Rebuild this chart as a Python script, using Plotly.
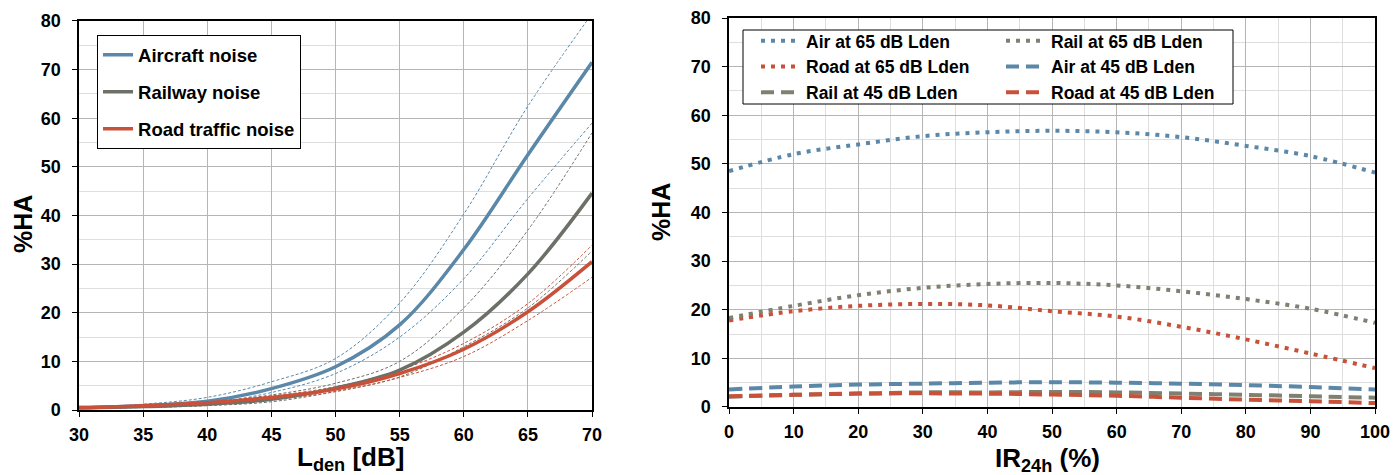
import plotly.graph_objects as go

# ---------------- data (left panel) ----------------
lden = [30, 35, 40, 45, 50, 55, 60, 65, 70]
aircraft = [0.5, 0.9, 1.8, 4.4, 8.9, 17.5, 33.0, 52.5, 71.5]
aircraft_hi = [0.6, 1.2, 2.6, 5.8, 10.6, 22.0, 40.3, 62.5, 81.5]
aircraft_lo = [0.4, 0.7, 1.4, 3.6, 7.5, 15.0, 27.0, 43.5, 59.0]
railway = [0.4, 0.7, 1.2, 2.2, 4.5, 8.2, 16.0, 28.0, 44.6]
railway_hi = [0.5, 0.9, 1.6, 3.1, 5.5, 10.0, 21.0, 37.0, 57.0]
railway_lo = [0.3, 0.5, 0.9, 1.7, 3.8, 6.8, 13.0, 21.0, 32.7]
road = [0.5, 0.9, 1.5, 2.6, 4.3, 7.5, 12.5, 20.2, 30.5]
road_hi = [0.6, 1.0, 1.7, 2.9, 4.8, 8.2, 13.7, 21.9, 33.9]
road_lo = [0.4, 0.8, 1.3, 2.1, 3.8, 6.7, 11.0, 18.4, 27.3]

# ---------------- data (right panel) ----------------
ir24h = [0, 10, 20, 30, 40, 50, 60, 70, 80, 90, 100]
air65 = [48.5, 52.0, 54.0, 55.7, 56.5, 56.8, 56.5, 55.5, 53.7, 51.6, 48.2]
rail65 = [18.3, 20.8, 23.0, 24.5, 25.3, 25.5, 25.0, 23.8, 22.2, 20.2, 17.3]
road65 = [17.8, 19.7, 20.8, 21.2, 20.9, 19.7, 18.6, 16.5, 13.9, 11.0, 8.0]
air45 = [3.6, 4.2, 4.6, 4.8, 5.0, 5.1, 5.0, 4.8, 4.5, 4.1, 3.6]
rail45 = [2.1, 2.5, 2.75, 3.0, 3.0, 3.1, 3.0, 2.75, 2.5, 2.2, 1.9]
road45 = [2.2, 2.5, 2.75, 2.8, 2.75, 2.55, 2.3, 1.9, 1.5, 1.2, 0.8]

BLUE = "#5B88A8"
GREY = "#6C7168"
RED = "#C9513A"
GREY2 = "#7E8172"
FONT = "Liberation Sans, Arial, sans-serif"

fig = go.Figure()

# confidence bands (thin dashed)
for ys, col in [(aircraft_hi, BLUE), (aircraft_lo, BLUE),
                (railway_hi, GREY), (railway_lo, GREY),
                (road_hi, RED), (road_lo, RED)]:
    fig.add_trace(go.Scatter(x=lden, y=ys, mode="lines", showlegend=False,
                             line=dict(color=col, width=1, dash="3px,2px", shape="spline"),
                             xaxis="x", yaxis="y", hoverinfo="skip"))

for name, ys, col in [("Aircraft noise", aircraft, BLUE),
                      ("Railway noise", railway, GREY),
                      ("Road traffic noise", road, RED)]:
    fig.add_trace(go.Scatter(x=lden, y=ys, mode="lines", name=name, legendgroup=name,
                             line=dict(color=col, width=3.5, shape="spline"),
                             xaxis="x", yaxis="y", legend="legend"))

# right panel: two legend columns
DOT = "4px,6px"
DASH = "13px,7px"
for name, ys, col, dash, leg in [("Air at 65 dB Lden", air65, BLUE, DOT, "legend2"),
                                 ("Road at 65 dB Lden", road65, RED, DOT, "legend2"),
                                 ("Rail at 45 dB Lden", rail45, GREY2, DASH, "legend2"),
                                 ("Rail at 65 dB Lden", rail65, GREY2, DOT, "legend3"),
                                 ("Air at 45 dB Lden", air45, BLUE, DASH, "legend3"),
                                 ("Road at 45 dB Lden", road45, RED, DASH, "legend3")]:
    fig.add_trace(go.Scatter(x=ir24h, y=ys, mode="lines", name=name,
                             line=dict(color=col, width=4, dash=dash, shape="spline"),
                             xaxis="x2", yaxis="y2", legend=leg))

tickfont = dict(family=FONT, size=18, color="black")
MAJ = "#B5B5B5"
MIN = "#DEDEDE"

common = dict(showline=True, linecolor="black", linewidth=1.5, mirror=True,
              ticks="outside", ticklen=5, tickcolor="black", tickfont=tickfont,
              tickprefix="<b>", ticksuffix="</b>", automargin=False,
              gridcolor=MAJ, gridwidth=1, zeroline=False)

legfont = dict(family=FONT, size=17.5, weight="bold")

fig.update_layout(
    width=1394, height=475,
    margin=dict(l=0, r=0, t=0, b=0, autoexpand=False),
    paper_bgcolor="white", plot_bgcolor="white",
    font=dict(family=FONT, color="black"),
    xaxis=dict(domain=[0.0567, 0.4247], range=[30, 70], dtick=5, anchor="y",
               ticklabelstandoff=3, **common),
    yaxis=dict(domain=[0.1368, 0.9558], range=[0, 80], dtick=10, anchor="x",
               minor=dict(dtick=5, showgrid=True, gridcolor=MIN, ticks=""),
               ticklabelstandoff=8, **common),
    xaxis2=dict(domain=[0.523, 0.9864], range=[0, 100], dtick=10, anchor="y2",
                minor=dict(dtick=5, showgrid=True, gridcolor=MIN, ticks=""),
                ticklabelstandoff=3, **common),
    yaxis2=dict(domain=[0.1432, 0.9621], range=[0, 80], dtick=10, anchor="x2",
                minor=dict(dtick=5, showgrid=True, gridcolor=MIN, ticks=""),
                ticklabelstandoff=8, **common),
    legend=dict(x=0.0696, y=0.926, xanchor="left", yanchor="top",
                bgcolor="white", bordercolor="black", borderwidth=1,
                font=dict(family=FONT, size=18.5, weight="bold"),
                tracegroupgap=10, itemwidth=30),
    legend2=dict(x=756 / 1394, y=0.9516, xanchor="left", yanchor="top",
                 bgcolor="rgba(0,0,0,0)", borderwidth=0,
                 font=legfont, itemwidth=40, tracegroupgap=0),
    legend3=dict(x=1001 / 1394, y=0.9516, xanchor="left", yanchor="top",
                 bgcolor="rgba(0,0,0,0)", borderwidth=0,
                 font=legfont, itemwidth=40, tracegroupgap=0),
    shapes=[dict(type="rect", xref="paper", yref="paper",
                 x0=743 / 1394, x1=1233 / 1394, y0=(475 - 104) / 475, y1=(475 - 30) / 475,
                 line=dict(color="black", width=1), fillcolor="white", layer="above")],
    annotations=[
        dict(text="<b>L<sub>den</sub> [dB]</b>", xref="paper", yref="paper",
             x=350 / 1394, y=(475 - 440) / 475, xanchor="center", yanchor="top",
             showarrow=False, font=dict(family=FONT, size=26, color="black")),
        dict(text="<b>IR<sub>24h</sub> (%)</b>", xref="paper", yref="paper",
             x=1047 / 1394, y=(475 - 441) / 475, xanchor="center", yanchor="top",
             showarrow=False, font=dict(family=FONT, size=26, color="black")),
        dict(text="<b>%HA</b>", xref="paper", yref="paper", textangle=-90,
             x=23 / 1394, y=(475 - 224) / 475, xanchor="center", yanchor="middle",
             showarrow=False, font=dict(family=FONT, size=25, color="black")),
        dict(text="<b>%HA</b>", xref="paper", yref="paper", textangle=-90,
             x=661 / 1394, y=(475 - 212) / 475, xanchor="center", yanchor="middle",
             showarrow=False, font=dict(family=FONT, size=25, color="black")),
    ],
)

fig.write_html("out.html", config={"displayModeBar": False},
               post_script="document.body.style.margin='0px';")
